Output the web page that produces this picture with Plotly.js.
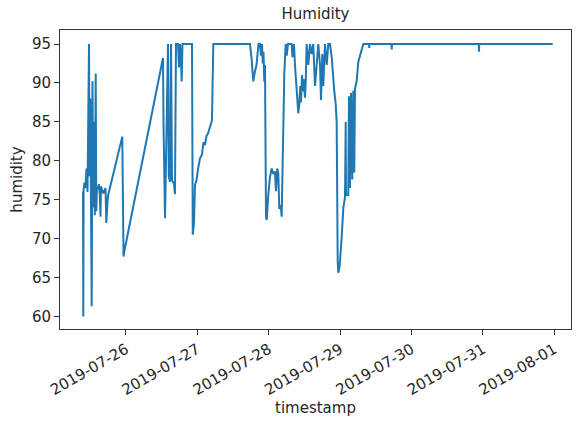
<!DOCTYPE html>
<html>
<head>
<meta charset="utf-8">
<script src="https://cdn.plot.ly/plotly-3.0.1.min.js"></script>
<style>html,body{margin:0;padding:0;background:#fff;}#chart{width:576px;height:424px;}</style>
</head>
<body>
<div id="chart"></div>
<script>
const timestamps = [
"2019-07-25 09:33","2019-07-25 09:39","2019-07-25 09:45","2019-07-25 10:03","2019-07-25 10:23",
"2019-07-25 10:43","2019-07-25 11:04","2019-07-25 11:34","2019-07-25 11:44","2019-07-25 12:00",
"2019-07-25 12:14","2019-07-25 12:28","2019-07-25 12:44","2019-07-25 13:00","2019-07-25 13:15",
"2019-07-25 13:31","2019-07-25 13:49","2019-07-25 14:01","2019-07-25 14:15","2019-07-25 14:35",
"2019-07-25 14:55","2019-07-25 15:12","2019-07-25 15:26","2019-07-25 15:36","2019-07-25 15:56",
"2019-07-25 16:26","2019-07-25 17:07","2019-07-25 17:23","2019-07-25 17:43","2019-07-25 17:57",
"2019-07-25 22:45","2019-07-25 23:10","2019-07-25 23:30",
"2019-07-26 12:26","2019-07-26 12:38","2019-07-26 13:07","2019-07-26 13:27","2019-07-26 13:53",
"2019-07-26 14:07","2019-07-26 14:23","2019-07-26 14:47","2019-07-26 15:08","2019-07-26 15:28",
"2019-07-26 16:08","2019-07-26 16:28","2019-07-26 16:48","2019-07-26 17:29","2019-07-26 17:49",
"2019-07-26 18:09","2019-07-26 18:29","2019-07-26 18:43","2019-07-26 18:59","2019-07-26 22:11",
"2019-07-26 22:27","2019-07-26 22:51","2019-07-26 23:12","2019-07-26 23:42",
"2019-07-27 00:12","2019-07-27 00:52","2019-07-27 01:33","2019-07-27 02:03","2019-07-27 02:33",
"2019-07-27 03:04","2019-07-27 03:34","2019-07-27 04:14","2019-07-27 04:54","2019-07-27 05:21",
"2019-07-27 17:41","2019-07-27 18:15","2019-07-27 18:47","2019-07-27 19:22","2019-07-27 19:52",
"2019-07-27 20:32","2019-07-27 21:03","2019-07-27 21:23","2019-07-27 21:43","2019-07-27 21:59",
"2019-07-27 22:13","2019-07-27 22:29","2019-07-27 22:43","2019-07-27 23:04","2019-07-27 23:18",
"2019-07-27 23:50",
"2019-07-28 00:24","2019-07-28 00:58","2019-07-28 01:31","2019-07-28 02:05","2019-07-28 02:25",
"2019-07-28 02:51","2019-07-28 03:12","2019-07-28 03:32","2019-07-28 04:00","2019-07-28 04:20",
"2019-07-28 04:52","2019-07-28 05:13","2019-07-28 05:41","2019-07-28 06:01","2019-07-28 06:27",
"2019-07-28 07:42","2019-07-28 07:58","2019-07-28 08:28","2019-07-28 08:48","2019-07-28 09:23",
"2019-07-28 09:39","2019-07-28 09:55","2019-07-28 10:15","2019-07-28 10:35","2019-07-28 10:49",
"2019-07-28 11:10","2019-07-28 11:30","2019-07-28 11:44","2019-07-28 12:10","2019-07-28 12:24",
"2019-07-28 12:44","2019-07-28 13:17","2019-07-28 13:51","2019-07-28 14:25","2019-07-28 14:57",
"2019-07-28 15:32","2019-07-28 16:06","2019-07-28 16:38","2019-07-28 17:13","2019-07-28 17:33",
"2019-07-28 17:59","2019-07-28 18:19","2019-07-28 18:53","2019-07-28 19:28","2019-07-28 20:00",
"2019-07-28 20:34","2019-07-28 21:09","2019-07-28 21:41","2019-07-28 22:01","2019-07-28 22:29",
"2019-07-28 22:49","2019-07-28 23:10","2019-07-28 23:22","2019-07-28 23:42","2019-07-28 23:56",
"2019-07-29 00:30","2019-07-29 01:03","2019-07-29 01:37","2019-07-29 01:51","2019-07-29 01:57",
"2019-07-29 02:43","2019-07-29 02:57","2019-07-29 03:18","2019-07-29 03:38","2019-07-29 04:04",
"2019-07-29 04:24","2019-07-29 04:44","2019-07-29 04:58","2019-07-29 05:33","2019-07-29 06:05",
"2019-07-29 07:14","2019-07-29 07:46","2019-07-29 09:41","2019-07-29 09:47","2019-07-29 09:53",
"2019-07-29 17:15","2019-07-29 17:19","2019-07-29 17:25",
"2019-07-30 22:35","2019-07-30 22:39","2019-07-30 22:45","2019-07-31 23:26"
];
const humidity = [
76.0,60.0,76.3,77.2,76.5,
79.0,76.0,95.0,78.0,88.0,
72.8,61.3,90.2,74.0,85.0,
73.0,91.2,73.5,76.7,76.3,
77.0,75.5,72.8,76.7,76.3,
75.8,76.5,72.0,74.2,75.5,
83.1,67.7,68.5,
93.2,84.2,72.6,80.0,95.0,
95.0,78.0,77.3,95.0,77.5,
77.0,75.7,95.0,95.0,92.0,
95.0,93.0,90.2,95.0,95.0,
70.5,72.0,76.9,77.5,
78.9,80.3,80.8,82.4,82.0,
83.2,83.5,84.5,85.2,95.0,
95.0,93.0,90.2,91.5,92.3,
95.0,95.0,93.5,95.0,92.5,
94.0,90.2,92.3,72.8,72.4,
75.7,
77.9,79.0,78.3,78.6,76.1,
79.0,78.3,73.8,74.3,72.8,
85.0,91.3,95.0,93.5,95.0,
95.0,93.3,95.0,92.3,89.0,
87.5,86.1,87.3,89.6,87.5,
91.0,88.9,90.5,88.1,90.0,
95.0,92.3,95.0,93.7,95.0,
89.6,92.3,95.0,92.3,87.8,
93.7,89.6,95.0,92.3,95.0,
95.0,93.3,89.6,88.9,87.3,
85.0,67.0,65.6,66.2,67.0,
70.2,73.9,75.3,85.0,75.6,
75.6,88.3,76.5,88.7,77.6,
89.0,78.5,89.2,90.3,92.7,
94.3,95.0,95.0,94.5,95.0,
95.0,94.3,95.0,
95.0,94.0,95.0,95.0
];
const xTickStart = "2019-07-26";
const yTicks = [60, 65, 70, 75, 80, 85, 90, 95];

const font = {family: "DejaVu Sans, sans-serif", color: "#262626", size: 15};
Plotly.newPlot("chart", [{
  x: timestamps, y: humidity, type: "scatter", mode: "lines",
  line: {color: "#1f77b4", width: 2}
}], {
  width: 576, height: 424,
  margin: {l: 60, r: 5, t: 30, b: 95, pad: 0},
  paper_bgcolor: "#fff", plot_bgcolor: "#fff",
  font: font,
  showlegend: false,
  title: {text: "Humidity", font: {family: font.family, size: 15, color: "#262626"},
          x: 0.5, xref: "paper", xanchor: "center", y: 1 - 14/424, yref: "container", yanchor: "middle"},
  xaxis: {
    type: "date",
    range: ["2019-07-25 01:49", "2019-08-01 05:35"],
    tick0: xTickStart, dtick: 86400000, tickformat: "%Y-%m-%d",
    tickangle: -30, ticks: "outside", ticklen: 5, tickcolor: "#333",
    showline: true, linecolor: "#333", linewidth: 1, mirror: true,
    showgrid: false, zeroline: false,
    tickfont: {size: 15},
    title: {text: "timestamp", font: {size: 15}, standoff: 2}
  },
  yaxis: {
    range: [58.38, 96.8],
    tickvals: yTicks,
    ticks: "outside", ticklen: 5, tickcolor: "#333",
    showline: true, linecolor: "#333", linewidth: 1, mirror: true,
    showgrid: false, zeroline: false,
    tickfont: {size: 15},
    title: {text: "humidity", font: {size: 15}, standoff: 5}
  }
}, {staticPlot: true, displayModeBar: false});
</script>
</body>
</html>
